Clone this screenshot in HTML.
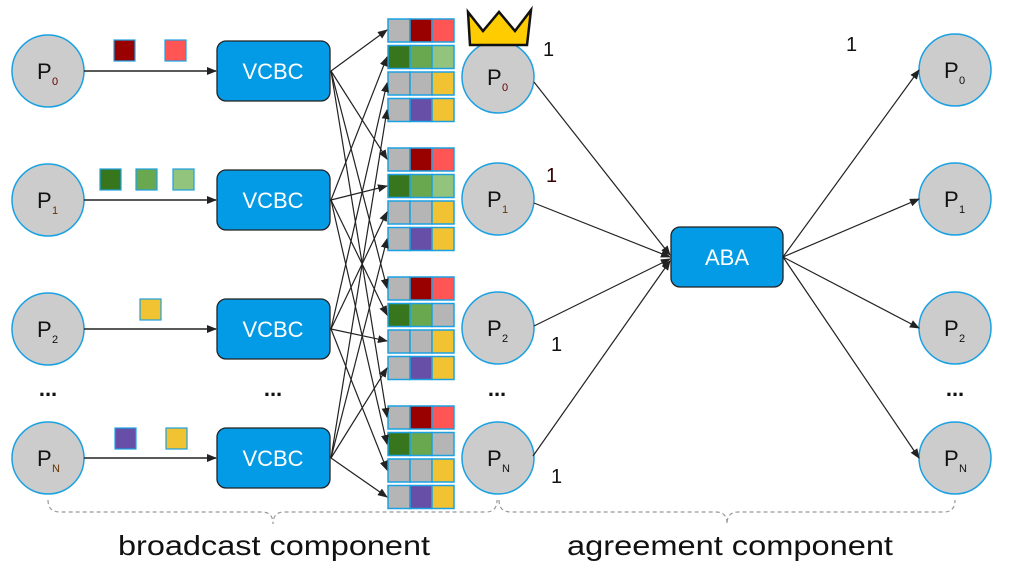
<!DOCTYPE html>
<html><head><style>body{margin:0;background:#fff}svg{display:block}</style></head>
<body>
<svg width="1010" height="579" viewBox="0 0 1010 579" xmlns="http://www.w3.org/2000/svg" font-family="Liberation Sans, sans-serif">
<defs>
<marker id="a" markerWidth="10" markerHeight="8" refX="9" refY="4" orient="auto" markerUnits="userSpaceOnUse"><path d="M0,0 L10,4 L0,8 Z" fill="#222"/></marker>
<g id="c"><circle r="36" fill="#cccccc" stroke="#1ba1e2" stroke-width="1.5"/></g>
<g id="r0" stroke="#1ba1e2" stroke-width="1.5"><rect x="388" width="22" height="23" fill="#b5b5b5"/><rect x="410" width="22" height="23" fill="#990000"/><rect x="432" width="22" height="23" fill="#ff5555"/></g>
<g id="r1a" stroke="#1ba1e2" stroke-width="1.5"><rect x="388" width="22" height="23" fill="#38761d"/><rect x="410" width="22" height="23" fill="#6aa84f"/><rect x="432" width="22" height="23" fill="#93c47d"/></g>
<g id="r1b" stroke="#1ba1e2" stroke-width="1.5"><rect x="388" width="22" height="23" fill="#38761d"/><rect x="410" width="22" height="23" fill="#6aa84f"/><rect x="432" width="22" height="23" fill="#b5b5b5"/></g>
<g id="r2" stroke="#1ba1e2" stroke-width="1.5"><rect x="388" width="22" height="23" fill="#b5b5b5"/><rect x="410" width="22" height="23" fill="#b5b5b5"/><rect x="432" width="22" height="23" fill="#f1c232"/></g>
<g id="r3" stroke="#1ba1e2" stroke-width="1.5"><rect x="388" width="22" height="23" fill="#b5b5b5"/><rect x="410" width="22" height="23" fill="#674ea7"/><rect x="432" width="22" height="23" fill="#f1c232"/></g>
</defs>

<!-- left circles -->
<use href="#c" x="48" y="71"/><use href="#c" x="48" y="200"/><use href="#c" x="48" y="329"/><use href="#c" x="48" y="458"/>
<use href="#c" x="498" y="77"/><use href="#c" x="498" y="199"/><use href="#c" x="498" y="328"/><use href="#c" x="498" y="458"/>
<use href="#c" x="955" y="70"/><use href="#c" x="955" y="199"/><use href="#c" x="955" y="328"/><use href="#c" x="955" y="458"/>

<g font-size="22" fill="#111">
<text x="37" y="79">P</text><text x="52" y="85" font-size="11" fill="#660000">0</text>
<text x="37" y="208">P</text><text x="52" y="214" font-size="11" fill="#663300">1</text>
<text x="37" y="337">P</text><text x="52" y="343" font-size="11">2</text>
<text x="37" y="466">P</text><text x="52" y="472" font-size="11" fill="#663300">N</text>
<text x="487" y="85">P</text><text x="502" y="91" font-size="11" fill="#660000">0</text>
<text x="487" y="207">P</text><text x="502" y="213" font-size="11" fill="#663300">1</text>
<text x="487" y="336">P</text><text x="502" y="342" font-size="11">2</text>
<text x="487" y="466">P</text><text x="502" y="472" font-size="11">N</text>
<text x="944" y="78">P</text><text x="959" y="84" font-size="11">0</text>
<text x="944" y="207">P</text><text x="959" y="213" font-size="11">1</text>
<text x="944" y="336">P</text><text x="959" y="342" font-size="11">2</text>
<text x="944" y="466">P</text><text x="959" y="472" font-size="11">N</text>
</g>

<!-- crown -->
<path d="M470,45 L468,12 L483,31 L499,12 L515,31 L531,10 L527,45 Z" fill="#ffcc00" stroke="#111" stroke-width="2.5" stroke-linejoin="miter"/>

<!-- small squares -->
<g stroke="#1ba1e2" stroke-width="1.2">
<rect x="114" y="40" width="21" height="21" fill="#990000"/><rect x="165" y="40" width="21" height="21" fill="#ff5555"/>
<rect x="100" y="169" width="21" height="21" fill="#38761d"/><rect x="136" y="169" width="21" height="21" fill="#6aa84f"/><rect x="173" y="169" width="21" height="21" fill="#93c47d"/>
<rect x="140" y="299" width="21" height="21" fill="#f1c232"/>
<rect x="115" y="428" width="21" height="21" fill="#674ea7"/><rect x="166" y="428" width="21" height="21" fill="#f1c232"/>
</g>

<!-- left arrows -->
<g stroke="#222" stroke-width="1.5" marker-end="url(#a)">
<line x1="84" y1="71" x2="216" y2="71"/><line x1="84" y1="200" x2="216" y2="200"/>
<line x1="84" y1="329" x2="216" y2="329"/><line x1="84" y1="458" x2="216" y2="458"/>
</g>

<!-- VCBC -->
<g fill="#039be5" stroke="#222" stroke-width="1.3">
<rect x="217" y="41" width="113" height="60" rx="9"/><rect x="217" y="170" width="113" height="60" rx="9"/>
<rect x="217" y="299" width="113" height="60" rx="9"/><rect x="217" y="428" width="113" height="60" rx="9"/>
<rect x="671" y="227" width="112" height="60" rx="9"/>
</g>
<g fill="#fff" font-size="22" text-anchor="middle">
<text x="273" y="79">VCBC</text><text x="273" y="208">VCBC</text><text x="273" y="337">VCBC</text><text x="273" y="466">VCBC</text>
<text x="727" y="265">ABA</text>
</g>

<!-- grid -->
<use href="#r0" y="19"/><use href="#r1a" y="45.5"/><use href="#r2" y="72"/><use href="#r3" y="98.5"/>
<use href="#r0" y="148"/><use href="#r1a" y="174.5"/><use href="#r2" y="201"/><use href="#r3" y="227.5"/>
<use href="#r0" y="277"/><use href="#r1b" y="303.5"/><use href="#r2" y="330"/><use href="#r3" y="356.5"/>
<use href="#r0" y="406"/><use href="#r1b" y="432.5"/><use href="#r2" y="459"/><use href="#r3" y="485.5"/>

<!-- fan arrows -->
<g stroke="#222" stroke-width="1.2" marker-end="url(#a)">
<line x1="331" y1="71" x2="387" y2="30"/><line x1="331" y1="71" x2="387" y2="159"/><line x1="331" y1="71" x2="387" y2="288"/><line x1="331" y1="71" x2="387" y2="417"/>
<line x1="331" y1="200" x2="387" y2="57"/><line x1="331" y1="200" x2="387" y2="186"/><line x1="331" y1="200" x2="387" y2="315"/><line x1="331" y1="200" x2="387" y2="444"/>
<line x1="331" y1="329" x2="387" y2="83"/><line x1="331" y1="329" x2="387" y2="212"/><line x1="331" y1="329" x2="387" y2="341"/><line x1="331" y1="329" x2="387" y2="470"/>
<line x1="331" y1="458" x2="387" y2="110"/><line x1="331" y1="458" x2="387" y2="239"/><line x1="331" y1="458" x2="387" y2="368"/><line x1="331" y1="458" x2="387" y2="497"/>
</g>

<!-- to ABA -->
<g stroke="#222" stroke-width="1.2" marker-end="url(#a)">
<line x1="534" y1="82" x2="670" y2="255"/><line x1="534" y1="203" x2="670" y2="257"/>
<line x1="534" y1="326" x2="670" y2="259"/><line x1="533" y1="456" x2="670" y2="261"/>
<line x1="783" y1="257" x2="919" y2="70"/><line x1="783" y1="257" x2="919" y2="199"/>
<line x1="783" y1="257" x2="919" y2="328"/><line x1="783" y1="257" x2="919" y2="458"/>
</g>

<g font-size="20" fill="#111">
<text x="543" y="56">1</text><text x="546" y="182" fill="#330000">1</text><text x="551" y="351">1</text><text x="551" y="483">1</text><text x="846" y="51">1</text>
</g>
<g font-size="22" font-weight="bold" fill="#111" text-anchor="middle">
<text x="48" y="396">...</text><text x="273" y="396">...</text><text x="497" y="396">...</text><text x="955" y="396">...</text>
</g>

<!-- braces -->
<g fill="none" stroke="#999" stroke-width="1.2" stroke-dasharray="4,3">
<path d="M48,500 Q48,512 60,512 L262,512 Q273,512 273,524 Q273,512 284,512 L486,512 Q497,512 497,500"/>
<path d="M499,500 Q499,512 511,512 L716,512 Q727,512 727,524 Q727,512 738,512 L944,512 Q955,512 955,500"/>
</g>
<g font-size="28" fill="#111">
<text x="118" y="555" textLength="312" lengthAdjust="spacingAndGlyphs">broadcast component</text>
<text x="567" y="555" textLength="326" lengthAdjust="spacingAndGlyphs">agreement component</text>
</g>
</svg>
</body></html>
